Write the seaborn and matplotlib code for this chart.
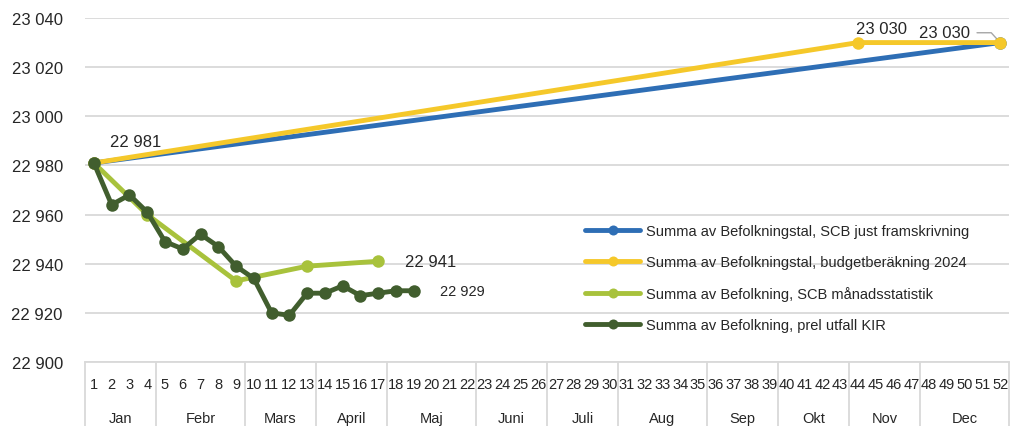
import matplotlib
matplotlib.use("Agg")
import matplotlib.pyplot as plt
import matplotlib.transforms as mtransforms
from matplotlib.ticker import FuncFormatter
import seaborn as sns
import pandas as pd

weeks = list(range(1, 53))
months = ["Jan", "Febr", "Mars", "April", "Maj", "Juni", "Juli", "Aug", "Sep", "Okt", "Nov", "Dec"]
month_weeks = [(1, 4), (5, 9), (10, 13), (14, 17), (18, 22), (23, 26), (27, 30),
               (31, 35), (36, 39), (40, 43), (44, 47), (48, 52)]

blue_w = [1, 52]
blue_v = [22981, 23030]
yellow_w = [1, 44, 52]
yellow_v = [22981, 23030, 23030]
lgreen_w = [1, 4, 9, 13, 17]
lgreen_v = [22981, 22960, 22933, 22939, 22941]
dgreen_w = list(range(1, 20))
dgreen_v = [22981, 22964, 22968, 22961, 22949, 22946, 22952, 22947, 22939, 22934,
            22920, 22919, 22928, 22928, 22931, 22927, 22928, 22929, 22929]

names = ["Summa av Befolkningstal, SCB just framskrivning",
         "Summa av Befolkningstal, budgetberäkning 2024",
         "Summa av Befolkning, SCB månadsstatistik",
         "Summa av Befolkning, prel utfall KIR"]
colors = ["#2E6EB5", "#F5C82A", "#A8C23C", "#415E2E"]

sns.set_style("white")
plt.rcParams["font.family"] = ["Liberation Sans", "DejaVu Sans"]

fig = plt.figure(figsize=(10.11, 4.27), dpi=100)
ax = fig.add_axes([85 / 1011, 64 / 427, 924 / 1011, 344 / 427])

series = [(blue_w, blue_v), (yellow_w, yellow_v), (lgreen_w, lgreen_v), (dgreen_w, dgreen_v)]
for (w, v), name, c in zip(series, names, colors):
    df = pd.DataFrame({"week": w, "value": v})
    sns.lineplot(data=df, x="week", y="value", ax=ax, color=c, linewidth=3.5,
                 marker="o", markersize=9, markeredgewidth=0, label=name, zorder=3)

ax.set_xlim(0.5, 52.5)
ax.set_ylim(22900, 23040)
ax.set_yticks(range(22900, 23041, 20))
ax.yaxis.set_major_formatter(FuncFormatter(lambda v, p: f"{int(v):,}".replace(",", " ")))
ax.set_xticks(weeks)
ax.set_xticklabels([str(w) for w in weeks])
ax.tick_params(axis="x", length=0, pad=11, labelsize=10.5, colors="#262626")
ax.tick_params(axis="y", length=0, pad=16, labelsize=12, colors="#262626")
ax.set_xlabel("")
ax.set_ylabel("")
ax.grid(axis="y", color="#d9d9d9", linewidth=1.3)
ax.set_axisbelow(True)
for s in ["top", "right", "left"]:
    ax.spines[s].set_visible(False)
ax.spines["bottom"].set_color("#d9d9d9")
ax.spines["bottom"].set_linewidth(1.3)

# month grouping below the axis
trans = mtransforms.blended_transform_factory(ax.transData, ax.transAxes)
bounds = [month_weeks[0][0] - 0.5] + [b + 0.5 for a, b in month_weeks]
for b in bounds:
    ax.plot([b, b], [0, -0.2], transform=trans, color="#d9d9d9", linewidth=1.3, clip_on=False)
for m, (a, b) in zip(months, month_weeks):
    ax.text((a + b) / 2, -0.163, m, transform=trans, ha="center", va="center",
            fontsize=10.5, color="#262626")

# data labels
ax.annotate("22 981", (1, 22981), xytext=(16, 21), textcoords="offset pixels",
            ha="left", va="center", fontsize=12, color="#262626")
ax.annotate("23 030", (44, 23030), xytext=(-2, 14), textcoords="offset pixels",
            ha="left", va="center", fontsize=12, color="#262626")
ax.annotate("23 030", (52, 23030), xytext=(-30, 10), textcoords="offset pixels",
            ha="right", va="center", fontsize=12, color="#262626")
ax.plot([50.7, 51.5, 52], [23034, 23034, 23030], color="#a6a6a6", linewidth=1, zorder=2,
        clip_on=False)
ax.annotate("22 941", (17, 22941), xytext=(27, 0), textcoords="offset pixels",
            ha="left", va="center", fontsize=12, color="#262626")
ax.annotate("22 929", (19, 22929), xytext=(26, 0), textcoords="offset pixels",
            ha="left", va="center", fontsize=10.5, color="#262626")

leg = ax.legend(loc="upper left", bbox_to_anchor=(585 / 1011, 1 - 225 / 427),
                bbox_transform=fig.transFigure, frameon=False, fontsize=10.5,
                handlelength=3.8, handletextpad=0.35, labelspacing=1.17,
                borderpad=0, borderaxespad=0, markerscale=0.8)
for t in leg.get_texts():
    t.set_color("#262626")

fig.savefig("out.png", dpi=100)
